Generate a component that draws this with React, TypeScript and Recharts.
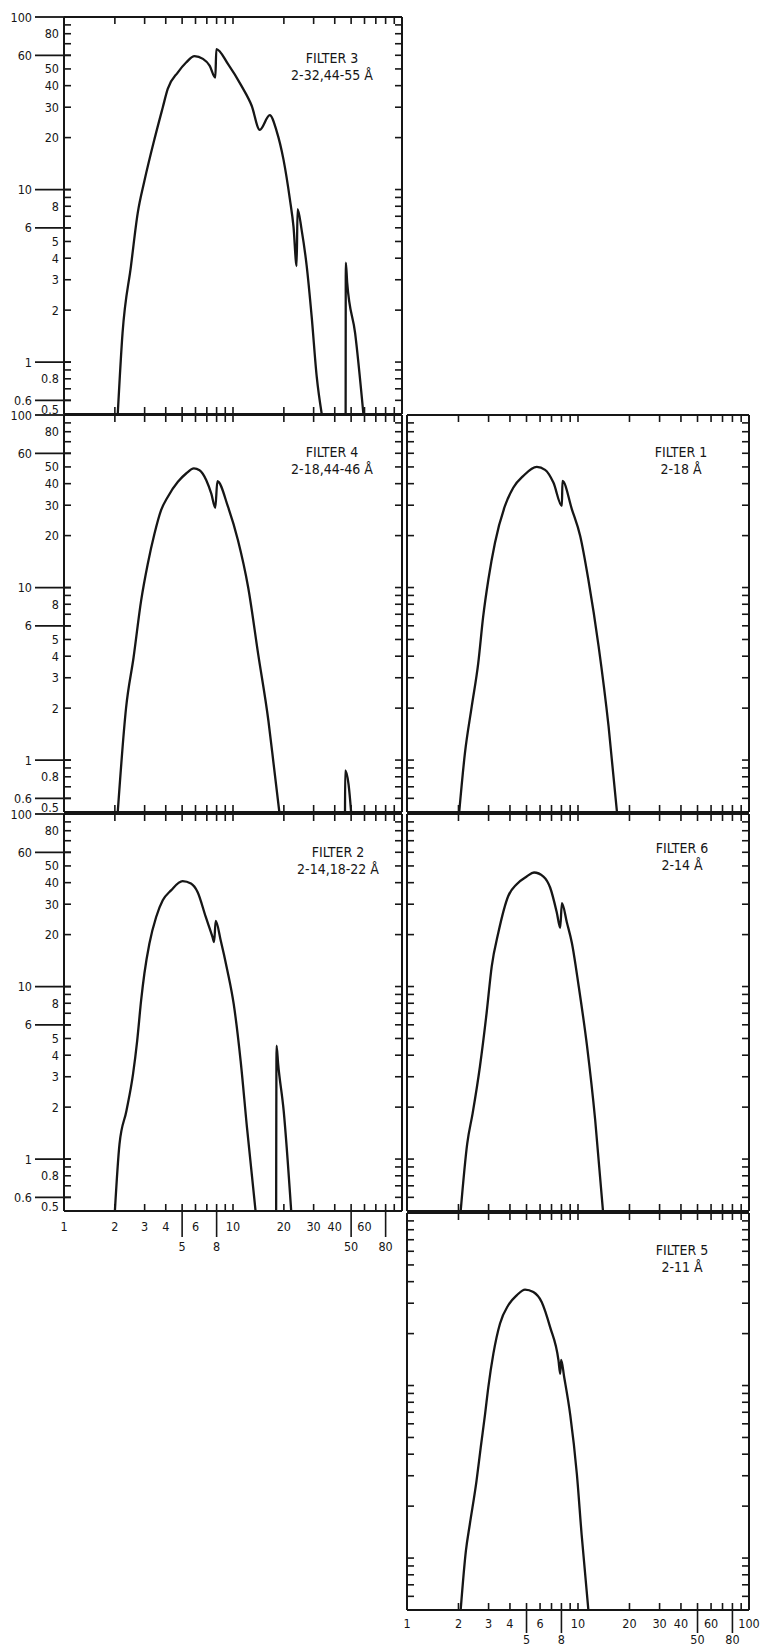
import React from 'react';
import { LineChart, Line, XAxis, YAxis } from 'recharts';

// axis ticks (log scales, wavelength in Å and transmission in %)
const xTicks = [1, 2, 3, 4, 5, 6, 7, 8, 9, 10, 20, 30, 40, 50, 60, 70, 80, 90, 100];
const yTicks = [0.5, 0.6, 0.7, 0.8, 0.9, 1, 2, 3, 4, 5, 6, 7, 8, 9, 10, 20, 30, 40, 50, 60, 70, 80, 90, 100];
const xLabelsUpper = [1, 2, 3, 4, 6, 10, 20, 30, 40, 60, 100];
const xLabelsLower = [5, 8, 50, 80];
const yLabelsFar = [100, 60, 10, 6, 1, 0.6];
const yLabelsNear = [80, 50, 40, 30, 20, 8, 5, 4, 3, 2, 0.8, 0.5];

// curves: [wavelength, transmission]
const filter3Main = [
  [2.08, 0.5], [2.22, 1.47], [2.49, 3.6], [2.73, 7.3], [2.99, 11.2], [3.43, 19.6], [3.84, 29.9],
  [4.11, 38.3], [4.72, 47.8], [5.28, 54.5], [5.92, 59.3], [6.64, 57.2], [7.27, 52.3], [7.86, 44.6],
  [7.97, 65.2], [9.35, 53.3], [11.2, 40], [12.9, 30.6], [14.4, 22.2], [16.5, 27], [18.1, 21.9],
  [19.9, 14.9], [21.7, 8.8], [22.8, 6.1], [23.8, 3.6], [24.1, 7.7], [25.5, 5.8], [27.3, 3.6],
  [29.2, 1.84], [31.3, 0.82], [33.5, 0.5],
];
const filter3Band = [[46.4, 0.5], [46.5, 3.77], [47.4, 2.88], [52.8, 1.47], [59.1, 0.5]];

const filter4Main = [
  [2.08, 0.5], [2.33, 2.01], [2.58, 3.93], [2.86, 8.4], [3.13, 13.7], [3.43, 20.5], [3.75, 28],
  [4.11, 33.5], [4.72, 41], [5.28, 45.8], [5.87, 49], [6.34, 47.9], [6.95, 41.9], [7.44, 35],
  [7.86, 29], [8.08, 41.3], [9.35, 29.3], [10.7, 18.8], [12.3, 10], [14.1, 4.1], [16.2, 1.69],
  [17.5, 0.9], [18.8, 0.5],
];
const filter4Band = [[46.0, 0.5], [46.1, 0.87], [48.3, 0.72], [50, 0.5]];

const filter2Main = [
  [2.0, 0.5], [2.13, 1.22], [2.34, 1.9], [2.56, 3.1], [2.71, 4.85], [2.86, 8.3], [2.99, 11.9],
  [3.2, 17.7], [3.51, 25.3], [3.84, 31.6], [4.3, 36.1], [5.03, 40.8], [5.64, 39.5], [6.17, 35.3],
  [6.9, 25.3], [7.56, 19.4], [7.73, 18.1], [7.9, 24], [8.46, 18.5], [9.26, 12.4], [10.1, 7.9],
  [11.1, 3.7], [12.1, 1.52], [13.6, 0.5],
];
const filter2Band = [[18.0, 0.5], [18.1, 4.54], [18.5, 3.55], [19.95, 1.9], [22.1, 0.5]];

const filter1Main = [
  [2.02, 0.5], [2.18, 1.09], [2.39, 2.04], [2.61, 3.65], [2.79, 6.8], [2.99, 11.1], [3.27, 18.2],
  [3.74, 29.7], [4.19, 38], [4.79, 44.4], [5.74, 50], [6.42, 48.1], [7.18, 40.6], [8.05, 29.7],
  [8.11, 41.5], [9.21, 28.4], [10.3, 19.9], [11.5, 11.1], [13.2, 4.56], [15.1, 1.56], [16.9, 0.5],
];

const filter6Main = [
  [2.06, 0.5], [2.25, 1.23], [2.42, 1.84], [2.67, 3.44], [2.92, 7.0], [3.13, 13.1], [3.42, 20.5],
  [3.91, 33.5], [4.38, 39.2], [5.01, 43.4], [5.53, 45.8], [6.28, 43.4], [6.87, 37.5], [7.52, 26.8],
  [7.87, 21.9], [8.05, 30.4], [8.61, 23.5], [9.21, 17.9], [10.1, 10], [11.3, 4.5], [12.6, 1.69],
  [14.0, 0.5],
];

const filter5Main = [
  [2.06, 0.5], [2.21, 1.1], [2.33, 1.57], [2.55, 2.8], [2.7, 4.4], [2.86, 6.8], [2.99, 9.8],
  [3.2, 15.3], [3.5, 22.9], [3.91, 29.2], [4.38, 33.3], [4.9, 36], [5.48, 34.8], [6.13, 30.5],
  [6.87, 21.8], [7.69, 14], [7.87, 11.7], [7.97, 14.1], [8.3, 11.2], [9.0, 6.8], [9.85, 3.06],
  [10.5, 1.37], [11.5, 0.5],
];

const FONT = "'DejaVu Sans Condensed', 'Liberation Sans Narrow', 'DejaVu Sans', sans-serif";
const INK = '#161616';
const PLOT_H = 397;
const COLS = [{ left: 64, width: 338 }, { left: 407, width: 342 }];
const ROWS = [17, 415, 814, 1213];

const toPts = (arr: number[][]) => arr.map(([x, y]) => ({ x, y }));

const textStyle = { fontFamily: FONT, fontSize: 12.5, fill: INK };

interface XLabelLayout {
  upperDy: number;
  lowerTick: number;
  lowerDy: number;
  showEnd: boolean;
}

const bottomTick = (lay: XLabelLayout | null) => (p: any) => {
  const { x, y, payload } = p;
  const v = payload.value;
  const edge = v === 1 || v === 100;
  const upper = !!lay && xLabelsUpper.includes(v) && (lay.showEnd || v !== 100);
  const lower = !!lay && xLabelsLower.includes(v);
  return (
    <g>
      {!edge && <line x1={x} y1={y} x2={x} y2={y - 7} stroke={INK} strokeWidth={1.6} />}
      {lower && lay && <line x1={x} y1={y} x2={x} y2={y + lay.lowerTick} stroke={INK} strokeWidth={1.6} />}
      {upper && lay && (
        <text x={x} y={y + lay.upperDy} textAnchor="middle" dominantBaseline="central" {...textStyle}>{v}</text>
      )}
      {lower && lay && (
        <text x={x} y={y + lay.lowerDy} textAnchor="middle" dominantBaseline="central" {...textStyle}>{v}</text>
      )}
    </g>
  );
};

const topTick = (p: any) => {
  const { x, y, payload } = p;
  const v = payload.value;
  if (v === 1 || v === 100) return <g />;
  return <line x1={x} y1={y} x2={x} y2={y + 7} stroke={INK} strokeWidth={1.6} />;
};

const leftTick = (labelled: boolean) => (p: any) => {
  const { x, y, payload } = p;
  const v = payload.value;
  const edge = v === 100 || v === 0.5;
  const far = labelled && yLabelsFar.includes(v);
  const near = labelled && yLabelsNear.includes(v);
  return (
    <g>
      {!edge && <line x1={x} y1={y} x2={x + 7} y2={y} stroke={INK} strokeWidth={1.6} />}
      {far && <line x1={x - 29} y1={y} x2={x + (edge ? 0 : 7)} y2={y} stroke={INK} strokeWidth={1.8} />}
      {far && (
        <text x={x - 32} y={y} textAnchor="end" dominantBaseline="central" {...textStyle}>{v}</text>
      )}
      {near && (
        <text x={x - 5} y={v === 0.5 ? y - 5 : y} textAnchor="end" dominantBaseline="central" {...textStyle}>{v}</text>
      )}
    </g>
  );
};

const rightTick = (p: any) => {
  const { x, y, payload } = p;
  const v = payload.value;
  if (v === 100 || v === 0.5) return <g />;
  return <line x1={x} y1={y} x2={x - 7} y2={y} stroke={INK} strokeWidth={1.6} />;
};

interface PanelProps {
  col: number;
  row: number;
  name: string;
  range: string;
  titleDx: number;
  titleDy: number;
  segments: number[][][];
  yLabels?: boolean;
  xLabels?: XLabelLayout;
}

const Panel: React.FC<PanelProps> = ({ col, row, name, range, titleDx, titleDy, segments, yLabels, xLabels }) => {
  const { left, width } = COLS[col];
  const top = ROWS[row];
  const leftW = yLabels ? 64 : 6;
  const rightW = 6;
  const topH = 6;
  const bottomH = xLabels ? 40 : 6;
  const axisLine = { stroke: INK, strokeWidth: 2 };

  return (
    <>
      <div style={{ position: 'absolute', left: left - leftW, top: top - topH }}>
        <LineChart
          width={leftW + width + rightW}
          height={topH + PLOT_H + bottomH}
          margin={{ top: 0, right: 0, bottom: 0, left: 0 }}
        >
          <XAxis
            xAxisId="b"
            dataKey="x"
            type="number"
            scale="log"
            domain={[1, 100]}
            allowDataOverflow
            ticks={xTicks}
            interval={0}
            height={bottomH}
            tickSize={0}
            tickMargin={0}
            tickLine={false}
            axisLine={axisLine}
            tick={bottomTick(xLabels || null)}
          />
          <XAxis
            xAxisId="t"
            orientation="top"
            dataKey="x"
            type="number"
            scale="log"
            domain={[1, 100]}
            allowDataOverflow
            ticks={xTicks}
            interval={0}
            height={topH}
            tickSize={0}
            tickMargin={0}
            tickLine={false}
            axisLine={axisLine}
            tick={topTick}
          />
          <YAxis
            yAxisId="l"
            type="number"
            scale="log"
            domain={[0.5, 100]}
            allowDataOverflow
            ticks={yTicks}
            interval={0}
            width={leftW}
            tickSize={0}
            tickMargin={0}
            tickLine={false}
            axisLine={axisLine}
            tick={leftTick(!!yLabels)}
          />
          <YAxis
            yAxisId="r"
            orientation="right"
            type="number"
            scale="log"
            domain={[0.5, 100]}
            allowDataOverflow
            ticks={yTicks}
            interval={0}
            width={rightW}
            tickSize={0}
            tickMargin={0}
            tickLine={false}
            axisLine={axisLine}
            tick={rightTick}
          />
          {segments.map((seg, i) => (
            <Line
              key={i}
              xAxisId="b"
              yAxisId="l"
              data={toPts(seg)}
              dataKey="y"
              type="monotoneX"
              dot={false}
              stroke={INK}
              strokeWidth={2.3}
              strokeLinejoin="round"
              isAnimationActive={false}
            />
          ))}
        </LineChart>
      </div>
      <div
        style={{
          position: 'absolute',
          left: left + width - titleDx - 60,
          top: top + titleDy,
          width: 120,
          textAlign: 'center',
          fontFamily: FONT,
          fontSize: 14,
          lineHeight: '17px',
          color: INK,
        }}
      >
        <div>{name}</div>
        <div>{range}</div>
      </div>
    </>
  );
};

export default function App() {
  return (
    <div style={{ position: 'absolute', left: 0, top: 0, width: 760, height: 1650, background: '#fff' }}>
      <style>{'.recharts-surface { overflow: visible; }'}</style>
      <Panel col={0} row={0} name="FILTER 3" range="2-32,44-55 Å" titleDx={70} titleDy={33}
        segments={[filter3Main, filter3Band]} yLabels />
      <Panel col={0} row={1} name="FILTER 4" range="2-18,44-46 Å" titleDx={70} titleDy={29}
        segments={[filter4Main, filter4Band]} yLabels />
      <Panel col={0} row={2} name="FILTER 2" range="2-14,18-22 Å" titleDx={64} titleDy={30}
        segments={[filter2Main, filter2Band]} yLabels
        xLabels={{ upperDy: 15, lowerTick: 26, lowerDy: 35, showEnd: false }} />
      <Panel col={1} row={1} name="FILTER 1" range="2-18 Å" titleDx={68} titleDy={29}
        segments={[filter1Main]} />
      <Panel col={1} row={2} name="FILTER 6" range="2-14 Å" titleDx={67} titleDy={26}
        segments={[filter6Main]} />
      <Panel col={1} row={3} name="FILTER 5" range="2-11 Å" titleDx={67} titleDy={29}
        segments={[filter5Main]}
        xLabels={{ upperDy: 13, lowerTick: 23, lowerDy: 29, showEnd: true }} />
    </div>
  );
}
